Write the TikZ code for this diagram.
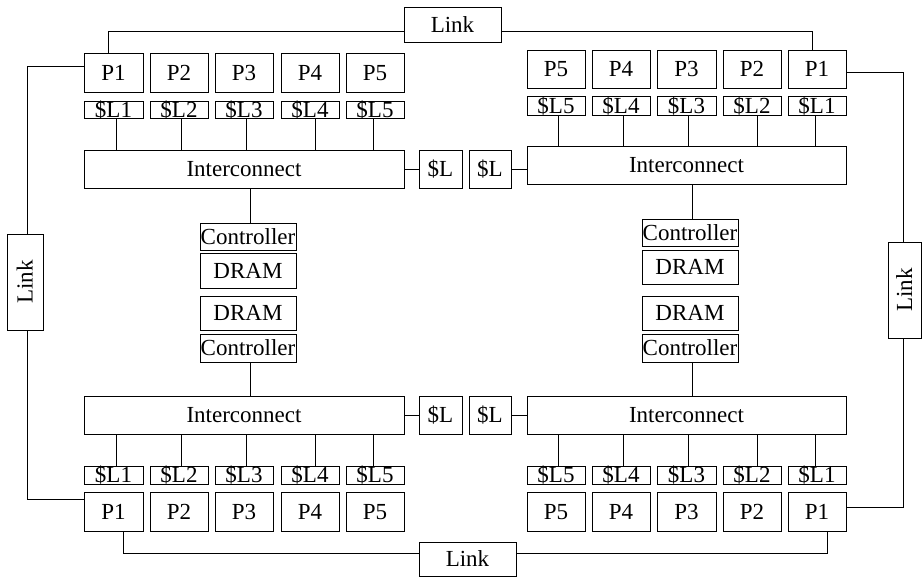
\documentclass[tikz,border=0pt]{standalone}
\usepackage{fontspec}
\setmainfont{Liberation Serif}
\begin{document}
\begin{tikzpicture}[x=1pt,y=-1pt,
  box/.style={draw, line width=0.9pt, inner sep=0pt, text height=15.2pt, text depth=0pt,
    font=\fontsize{23}{25}\selectfont},
  wire/.style={line width=0.9pt}]
\newcommand{\bx}[6]{\node[box, minimum width={(#4-#2)*1pt}, minimum height={(#5-#3)*1pt}] (#1) at ({(#2+#4)/2},{(#3+#5)/2}) {#6};}
\useasboundingbox (0,0) rectangle (922,578);
% ---------- top-left cluster
\foreach \i/\a/\b in {1/84/143,2/150/208,3/215/273,4/281/339,5/346/404}{
  \bx{tlp\i}{\a}{53}{\b}{92}{P\i}
  \bx{tls\i}{\a}{101}{\b}{118}{\$L\i}
}
\bx{tlic}{84}{150}{404}{188}{Interconnect}
\bx{tll}{419}{150}{462}{188}{\$L}
\foreach \i/\x in {1/116,2/181,3/246,4/315,5/373}
  \draw[wire] (tls\i.south -| \x,0) -- (tlic.north -| \x,0);
\draw[wire] (tlic.east) -- (tll.west);
% ---------- top-right cluster
\foreach \i/\a/\b in {5/527/585,4/592/650,3/657/716,2/723/781,1/788/846}{
  \bx{trp\i}{\a}{50}{\b}{88}{P\i}
  \bx{trs\i}{\a}{96}{\b}{115}{\$L\i}
}
\bx{tric}{527}{146}{846}{184}{Interconnect}
\bx{trl}{469}{150}{511}{188}{\$L}
\foreach \i/\x in {5/558,4/623,3/688,2/757,1/815}
  \draw[wire] (trs\i.south -| \x,0) -- (tric.north -| \x,0);
\draw[wire] (trl.east) -- (trl.east -| tric.west);
% ---------- memory stacks
\bx{lc1}{200}{223}{296}{250}{Controller}
\bx{ld1}{200}{253}{296}{288}{DRAM}
\bx{ld2}{200}{296}{296}{330}{DRAM}
\bx{lc2}{200}{334}{296}{362}{Controller}
\bx{rc1}{642}{219}{738}{246}{Controller}
\bx{rd1}{642}{250}{738}{284}{DRAM}
\bx{rd2}{642}{296}{738}{330}{DRAM}
\bx{rc2}{642}{334}{738}{362}{Controller}
% ---------- bottom-left cluster
\bx{blic}{84}{396}{404}{434}{Interconnect}
\bx{bll}{419}{396}{462}{434}{\$L}
\foreach \i/\a/\b in {1/84/143,2/150/208,3/215/273,4/281/339,5/346/404}{
  \bx{bls\i}{\a}{466}{\b}{484}{\$L\i}
  \bx{blp\i}{\a}{492}{\b}{531}{P\i}
}
\foreach \i/\x in {1/116,2/181,3/246,4/315,5/373}
  \draw[wire] (blic.south -| \x,0) -- (bls\i.north -| \x,0);
\draw[wire] (blic.east) -- (bll.west);
% ---------- bottom-right cluster
\bx{bric}{527}{396}{846}{434}{Interconnect}
\bx{brl}{469}{396}{511}{434}{\$L}
\foreach \i/\a/\b in {5/527/585,4/592/650,3/657/716,2/723/781,1/788/846}{
  \bx{brs\i}{\a}{466}{\b}{484}{\$L\i}
  \bx{brp\i}{\a}{492}{\b}{531}{P\i}
}
\foreach \i/\x in {5/558,4/623,3/688,2/757,1/815}
  \draw[wire] (bric.south -| \x,0) -- (brs\i.north -| \x,0);
\draw[wire] (brl.east) -- (bric.west);
% ---------- interconnect to controllers
\draw[wire] (tlic.south -| 250,0) -- (lc1.north -| 250,0);
\draw[wire] (lc2.south -| 250,0) -- (blic.north -| 250,0);
\draw[wire] (tric.south -| 692,0) -- (rc1.north -| 692,0);
\draw[wire] (rc2.south -| 692,0) -- (bric.north -| 692,0);
% ---------- links
\bx{toplink}{404}{7}{501}{42}{Link}
\bx{botlink}{419}{542}{516}{576}{Link}
\node[box, rotate=90, minimum width=96pt, minimum height=36pt] (leftlink) at (25,282) {Link};
\node[box, rotate=90, minimum width=96pt, minimum height=33pt] (rightlink) at (904.5,290) {Link};
\draw[wire] (tlp1.north -| 108,0) |- (toplink.west |- 0,31);
\draw[wire] (toplink.east |- 0,31) -| (trp1.north -| 812,0);
\draw[wire] (tlp1.west |- 0,66) -| (leftlink.east -| 27,0);
\draw[wire] (leftlink.west -| 27,0) |- (blp1.west |- 0,499);
\draw[wire] (trp1.east |- 0,72) -| (rightlink.east -| 903,0);
\draw[wire] (rightlink.west -| 903,0) |- (brp1.east |- 0,507);
\draw[wire] (blp1.south -| 123,0) |- (botlink.west |- 0,553);
\draw[wire] (botlink.east |- 0,553) -| (brp1.south -| 827,0);
\end{tikzpicture}
\end{document}
